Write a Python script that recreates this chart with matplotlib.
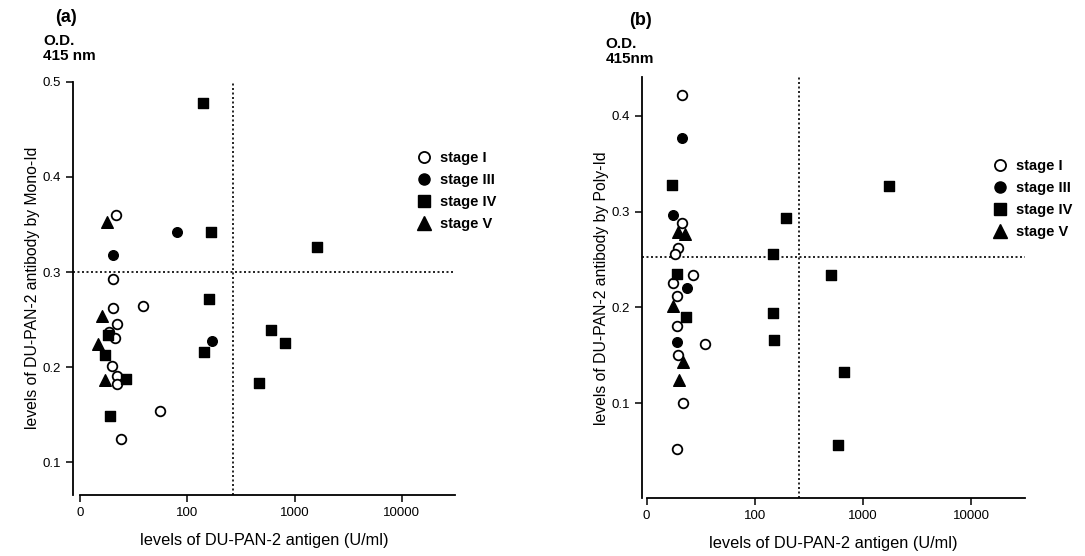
import matplotlib
matplotlib.use("Agg")
import matplotlib.pyplot as plt
from matplotlib.lines import Line2D

plt.rcParams['font.family'] = ['Liberation Sans', 'DejaVu Sans']

# panel (a): antigen (U/ml) vs antibody by Mono-Id
a_s1_x = [21.5, 20.4, 20.4, 38.9, 22.0, 21.2, 18.7, 19.7, 22.0, 22.0, 55.7, 23.9]
a_s1_y = [0.360, 0.293, 0.262, 0.264, 0.245, 0.231, 0.237, 0.201, 0.191, 0.182, 0.154, 0.125]
a_s3_x = [20.4, 80, 171]
a_s3_y = [0.318, 0.342, 0.228]
a_s4_x = [141, 165, 160, 143, 603, 809, 466, 1607, 26.8, 19.0, 18.4, 17.1]
a_s4_y = [0.478, 0.342, 0.272, 0.216, 0.239, 0.226, 0.184, 0.326, 0.188, 0.149, 0.234, 0.213]
a_s5_x = [17.7, 15.9, 14.8, 17.1]
a_s5_y = [0.353, 0.254, 0.224, 0.187]
a_cut_x, a_cut_y = 267, 0.30

# panel (b): antigen (U/ml) vs antibody by Poly-Id
b_s1_x = [21.1, 21.1, 19.6, 18.3, 26.7, 17.6, 19.0, 19.0, 34.6, 19.6, 21.5, 19.0]
b_s1_y = [0.422, 0.288, 0.262, 0.256, 0.234, 0.225, 0.212, 0.181, 0.162, 0.150, 0.100, 0.052]
b_s3_x = [21.1, 17.6, 23.4, 19.0]
b_s3_y = [0.377, 0.296, 0.220, 0.164]
b_s4_x = [17.0, 19.0, 23.1, 148, 194, 148, 151, 1754, 503, 668, 592]
b_s4_y = [0.328, 0.235, 0.190, 0.256, 0.293, 0.194, 0.166, 0.327, 0.234, 0.133, 0.056]
b_s5_x = [19.6, 22.6, 17.6, 21.5, 20.0]
b_s5_y = [0.279, 0.277, 0.201, 0.143, 0.124]
b_cut_x, b_cut_y = 258, 0.253

x_ticks = [10, 100, 1000, 10000]
x_labels = ["0", "100", "1000", "10000"]
stages = ["stage I", "stage III", "stage IV", "stage V"]

fig = plt.figure(figsize=(10.85, 5.56), dpi=100)
ax_a = fig.add_axes([0.0673, 0.110, 0.352, 0.743])
ax_b = fig.add_axes([0.5917, 0.104, 0.353, 0.757])


def draw_panel(ax, series, cut_x, cut_y, xlim, ylim, yticks, ylabel):
    (s1x, s1y), (s3x, s3y), (s4x, s4y), (s5x, s5y) = series
    ax.set_xscale('log')
    ax.scatter(s1x, s1y, s=48, marker='o', facecolors='white', edgecolors='black', linewidths=1.3, zorder=3)
    ax.scatter(s3x, s3y, s=48, marker='o', color='black', zorder=3)
    ax.scatter(s4x, s4y, s=55, marker='s', color='black', zorder=3)
    ax.scatter(s5x, s5y, s=70, marker='^', color='black', zorder=3)
    ax.axvline(cut_x, color='black', ls=(0, (1.2, 1.5)), lw=1.2, zorder=1)
    ax.axhline(cut_y, color='black', ls=(0, (1.2, 1.5)), lw=1.2, zorder=1)
    ax.set_xlim(*xlim)
    ax.set_ylim(*ylim)
    ax.set_xticks(x_ticks)
    ax.set_xticklabels(x_labels)
    ax.minorticks_off()
    ax.set_yticks(yticks)
    ax.set_yticklabels([f"{v:.1f}" for v in yticks])
    ax.tick_params(direction='out', length=5, width=1.1, labelsize=9.5)
    for side in ['top', 'right']:
        ax.spines[side].set_visible(False)
    ax.spines['left'].set_linewidth(1.3)
    ax.spines['bottom'].set_linewidth(1.3)
    ax.spines['bottom'].set_bounds(10, xlim[1])
    ax.set_xlabel("levels of DU-PAN-2 antigen (U/ml)", fontsize=11.8, labelpad=10)
    ax.set_ylabel(ylabel, fontsize=11.3, labelpad=2)


draw_panel(ax_a, [(a_s1_x, a_s1_y), (a_s3_x, a_s3_y), (a_s4_x, a_s4_y), (a_s5_x, a_s5_y)],
           a_cut_x, a_cut_y, (8.6, 31300), (0.066, 0.5), [0.1, 0.2, 0.3, 0.4, 0.5],
           "levels of DU-PAN-2 antibody by Mono-Id")
draw_panel(ax_b, [(b_s1_x, b_s1_y), (b_s3_x, b_s3_y), (b_s4_x, b_s4_y), (b_s5_x, b_s5_y)],
           b_cut_x, b_cut_y, (9.05, 31600), (0.001, 0.44), [0.1, 0.2, 0.3, 0.4],
           "levels of DU-PAN-2 antibody by Poly-Id")

handles = [
    Line2D([], [], ls='', marker='o', ms=8, mfc='white', mec='black', mew=1.3),
    Line2D([], [], ls='', marker='o', ms=8, color='black'),
    Line2D([], [], ls='', marker='s', ms=8, color='black'),
    Line2D([], [], ls='', marker='^', ms=10, color='black'),
]
for ax, anchor in [(ax_a, (0.372, 0.752)), (ax_b, (0.903, 0.737))]:
    fig.legend(handles, stages, loc='upper left', bbox_to_anchor=anchor, frameon=False,
               handlelength=1.0, handletextpad=0.6, labelspacing=0.55,
               prop={'weight': 'bold', 'size': 10.5})

fig.text(0.051, 0.968, "(a)", fontsize=13, fontweight='bold', ha='left', va='center')
fig.text(0.040, 0.912, "O.D.\n415 nm", fontsize=11, fontweight='bold', ha='left', va='center', linespacing=1.1)
fig.text(0.580, 0.963, "(b)", fontsize=13, fontweight='bold', ha='left', va='center')
fig.text(0.558, 0.908, "O.D.\n415nm", fontsize=11, fontweight='bold', ha='left', va='center', linespacing=1.1)

fig.savefig("out.png", dpi=100)
